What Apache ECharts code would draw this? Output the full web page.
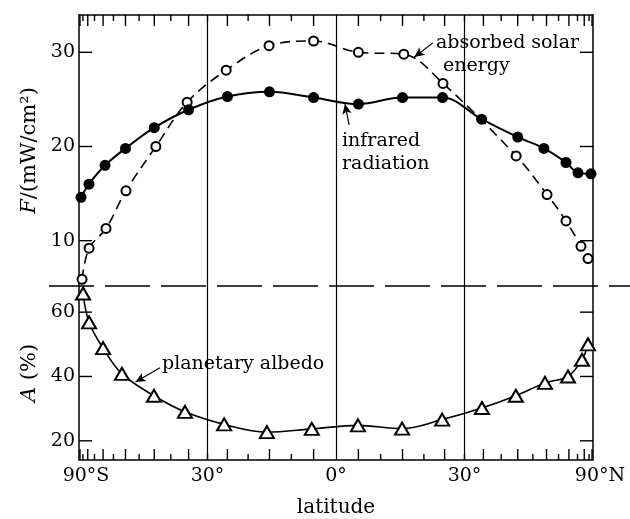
<!DOCTYPE html>
<html><head><meta charset="utf-8">
<script src="https://cdn.jsdelivr.net/npm/echarts@6/dist/echarts.min.js"></script>
<style>html,body{margin:0;padding:0;background:#fff}#c{width:630px;height:519px}</style>
</head><body><div id="c"></div>
<script>
// ---- data (latitude in degrees) ----
const irLat = [-82.8, -74, -64, -55, -45, -35, -25, -15, -5, 5, 15, 24.5, 34.5, 45, 54, 63.5, 70.3, 82.8];
const irVal = [14.6, 16.0, 18.0, 19.8, 22.0, 23.9, 25.3, 25.8, 25.2, 24.5, 25.2, 25.2, 22.9, 21.0, 19.8, 18.3, 17.2, 17.1];
const solarLat = [-81.2, -73.9, -63.5, -54.8, -44.5, -35.4, -25.3, -15.1, -5, 5, 15.3, 24.6, 44.5, 55.2, 63.5, 72.4, 78.7];
const solarVal = [5.9, 9.2, 11.3, 15.3, 20.0, 24.7, 28.1, 30.7, 31.2, 30.0, 29.8, 26.7, 19.0, 14.9, 12.1, 9.4, 8.1];
const albedoLat = [-79.8, -73.9, -65, -56.4, -45.1, -36, -25.8, -15.6, -5.4, 4.9, 14.9, 24.4, 34.6, 44.4, 54.4, 64.5, 73.2, 78.7];
const albedoVal = [65.8, 56.8, 48.8, 40.8, 34.0, 29.0, 25.1, 22.7, 23.7, 24.8, 23.8, 26.6, 30.2, 34.0, 38.0, 40.0, 45.2, 50.0];
const latLabelValues = [-90, -30, 0, 30, 90];
const latLabels = ['90°S', '30°', '0°', '30°', '90°N'];
const guideLats = [-30, 0, 30];
const majorTickLats = [-85,-75,-65,-55,-45,-35,-25,-15,-5,5,15,25,35,45,55,65,75,85];
const minorTickLats = [-80,-70,-60,-50,-40,-30,-20,-10,10,20,30,40,50,60,70,80];
const fTicks = [10, 20, 30];
const aTicks = [20, 40, 60];
const fRange = [5.19, 33.96];
const aRange = [14.03, 68.13];

const FONT = 'DejaVu Serif';
const s = d => Math.sin(d * Math.PI / 180);
const pts = (lat, val) => lat.map((l, i) => [s(l), val[i]]);

const G0 = {left: 79, right: 37, top: 15, height: 271};
const G1 = {left: 79, right: 37, top: 286, height: 175};

const chart = echarts.init(document.getElementById('c'));

function xAx(grid, pos, labels) {
  return {
    type: 'value', gridIndex: grid, position: pos, min: -1, max: 1,
    axisLine: {show: true, onZero: false, lineStyle: {color: '#000', width: 1.5}},
    axisTick: {show: false},
    axisLabel: labels ? {
      show: true, customValues: latLabelValues.map(s), margin: 7,
      fontFamily: FONT, fontSize: 19, color: '#000',
      formatter: v => {
        const i = latLabelValues.findIndex(l => Math.abs(s(l) - v) < 1e-6);
        const t = i >= 0 ? latLabels[i] : '';
        if (t.endsWith('S') || t.endsWith('N')) return '{p|}' + t;
        return t;
      },
      rich: {p: {width: 14}}
    } : {show: false},
    splitLine: {show: false}
  };
}
function yAx(grid, pos, range, ticks, labels, name) {
  return {
    type: 'value', gridIndex: grid, position: pos, min: range[0], max: range[1],
    axisLine: {show: true, onZero: false, lineStyle: {color: '#000', width: 1.5}},
    axisTick: {show: false},
    axisLabel: labels ? {show: true, customValues: ticks, margin: 4, fontFamily: FONT, fontSize: 19, color: '#000'} : {show: false},
    splitLine: {show: false},
    name: name || '', nameLocation: 'middle', nameGap: 38, nameRotate: 90,
    nameTextStyle: {fontFamily: FONT, fontSize: 21, color: '#000',
      rich: {i: {fontFamily: FONT, fontStyle: 'italic', fontSize: 21, color: '#000'}}}
  };
}

const xAxes = [xAx(0, 'top', false), xAx(1, 'bottom', true)];
xAxes[1].name = 'latitude';
xAxes[1].nameLocation = 'middle';
xAxes[1].nameGap = 38;
xAxes[1].nameTextStyle = {fontFamily: FONT, fontSize: 20, color: '#000'};

const yAxes = [
  yAx(0, 'left', fRange, fTicks, true, '{i|F}/(mW/cm²)'),
  yAx(0, 'right', fRange, fTicks, false),
  yAx(1, 'left', aRange, aTicks, true, '{i|A} (%)'),
  yAx(1, 'right', aRange, aTicks, false)
];

const guideLine = {color: '#000', width: 1.2, type: 'solid'};
function arrow(x1, y1, x2, y2) {
  return [{coord: [x1, y1], symbol: 'none'}, {coord: [x2, y2], symbol: 'arrow', symbolSize: [7, 10]}];
}

const option = {
  backgroundColor: '#fff',
  animation: false,
  grid: [
    Object.assign({containLabel: false}, G0),
    Object.assign({containLabel: false}, G1)
  ],
  xAxis: xAxes,
  yAxis: yAxes,
  series: [
    {
      name: 'absorbed solar energy', type: 'line', xAxisIndex: 0, yAxisIndex: 0,
      data: pts(solarLat, solarVal), smooth: 0.35,
      symbol: 'emptyCircle', symbolSize: 9,
      lineStyle: {color: '#000', width: 1.6, type: [10, 6]},
      itemStyle: {color: '#000', borderWidth: 1.6},
      z: 3,
      markLine: {
        silent: true, symbol: ['none', 'none'], label: {show: false},
        lineStyle: guideLine,
        data: [arrow(0.377, 31.0, 0.305, 29.5)]
      }
    },
    {
      name: 'infrared radiation', type: 'line', xAxisIndex: 0, yAxisIndex: 0,
      data: pts(irLat, irVal), smooth: 0.35,
      symbol: 'circle', symbolSize: 11,
      lineStyle: {color: '#000', width: 2},
      itemStyle: {color: '#000'},
      z: 4,
      markLine: {
        silent: true, symbol: ['none', 'none'], label: {show: false},
        lineStyle: guideLine,
        data: guideLats.map(l => ({xAxis: s(l)})).concat([arrow(0.051, 22.3, 0.035, 24.5)])
      }
    },
    {
      name: 'planetary albedo', type: 'line', xAxisIndex: 1, yAxisIndex: 2,
      data: pts(albedoLat, albedoVal), smooth: 0.35,
      symbol: 'emptyTriangle', symbolSize: [14, 12],
      lineStyle: {color: '#000', width: 1.6},
      itemStyle: {color: '#000', borderWidth: 1.6},
      z: 4,
      markLine: {
        silent: true, symbol: ['none', 'none'], label: {show: false},
        lineStyle: guideLine,
        data: guideLats.map(l => ({xAxis: s(l)})).concat([arrow(-0.685, 42.7, -0.78, 38.3)])
      }
    }
  ]
};
chart.setOption(option);

// ---- tick marks as thin filled rectangles, positioned through the axes' scales ----
const px = v => chart.convertToPixel({gridIndex: 0}, [v, fRange[1]])[0];
const fy = v => chart.convertToPixel({gridIndex: 0}, [0, v])[1];
const ay = v => chart.convertToPixel({gridIndex: 1}, [0, v])[1];
const gTop = fy(fRange[1]);
const gBot = ay(aRange[0]);
const xL = px(-1), xR = px(1);
const TW = 1.4;
const gfx = [];
function rect(x, y, w, h) {
  gfx.push({type: 'rect', z: 20, shape: {x: x, y: y, width: w, height: h}, style: {fill: '#000'}});
}
function vTick(x, yEdge, len) {          // len > 0 goes down, < 0 goes up
  rect(x - TW / 2, len > 0 ? yEdge : yEdge + len, TW, Math.abs(len));
}
function hTick(xEdge, y, len) {          // len > 0 goes right, < 0 goes left
  rect(len > 0 ? xEdge : xEdge + len, y - TW / 2, Math.abs(len), TW);
}
majorTickLats.forEach(l => { const x = px(s(l)); vTick(x, gTop, 11); vTick(x, gBot, -11); });
minorTickLats.forEach(l => { const x = px(s(l)); vTick(x, gTop, 6); vTick(x, gBot, -6); });
fTicks.forEach(v => { const y = fy(v); hTick(xL, y, 13); hTick(xR, y, -13); });
aTicks.forEach(v => { const y = ay(v); hTick(xL, y, 13); hTick(xR, y, -13); });

gfx.push({type: 'line', shape: {x1: 49, y1: fy(fRange[0]), x2: 630, y2: fy(fRange[0])},
  style: {stroke: '#000', lineWidth: 1.5, lineDash: [45, 11]}});
function txt(x, y, t) {
  gfx.push({type: 'text', x: x, y: y, z: 10,
    style: {text: t, fontFamily: FONT, fontSize: 19, fill: '#000', verticalAlign: 'middle', align: 'left'}});
}
txt(436, 43, 'absorbed solar');
txt(443, 66, 'energy');
txt(342, 141, 'infrared');
txt(342, 164, 'radiation');
txt(162, 364, 'planetary albedo');
chart.setOption({graphic: {elements: gfx}});
</script></body></html>
